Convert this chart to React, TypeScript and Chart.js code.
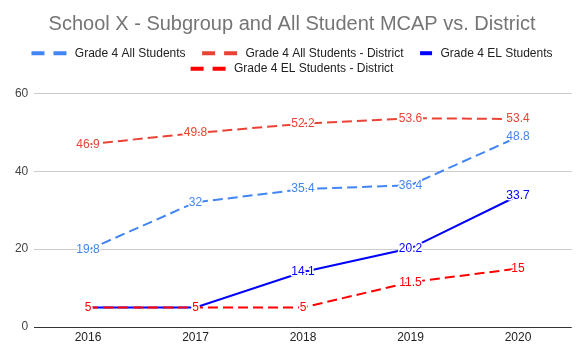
import React, { useEffect, useRef } from 'react';
import { Chart, registerables } from 'chart.js';

Chart.register(...registerables);

const FONT = "'Liberation Sans', Arial, Helvetica, sans-serif";
const TITLE = 'School X - Subgroup and All Student MCAP vs. District';

const YEARS = ['2016', '2017', '2018', '2019', '2020'];
const ALL_STUDENTS = [19.8, 32, 35.4, 36.4, 48.8];
const ALL_STUDENTS_DISTRICT = [46.9, 49.8, 52.2, 53.6, 53.4];
const EL_STUDENTS = [5, 5, 14.1, 20.2, 33.7];
const EL_STUDENTS_DISTRICT = [5, 5, 5, 11.5, 15];
const Y_TICKS = [0, 20, 40, 60];

const SERIES_LABELS = [
  'Grade 4 All Students',
  'Grade 4 All Students - District',
  'Grade 4 EL Students',
  'Grade 4 EL Students - District',
];
const SERIES_COLORS = ['#4285F4', '#EA4335', '#0000FF', '#FF0000'];

const dataLabelPlugin = {
  id: 'dataLabels',
  afterDatasetsDraw(chart: any) {
    const ctx = chart.ctx;
    ctx.save();
    ctx.font = `12px ${FONT}`;
    ctx.textAlign = 'center';
    ctx.textBaseline = 'middle';
    ctx.lineJoin = 'round';
    chart.data.datasets.forEach((ds: any, di: number) => {
      const meta = chart.getDatasetMeta(di);
      meta.data.forEach((pt: any, i: number) => {
        const v = ds.data[i];
        const txt = String(v);
        ctx.lineWidth = 3;
        ctx.strokeStyle = '#ffffff';
        ctx.strokeText(txt, pt.x, pt.y);
        ctx.fillStyle = ds.borderColor;
        ctx.fillText(txt, pt.x, pt.y);
      });
    });
    ctx.restore();
  },
};

const titleLegendPlugin = {
  id: 'titleLegend',
  afterDraw(chart: any) {
    const ctx = chart.ctx;
    const W = chart.width;
    ctx.save();
    // Title
    ctx.font = `20px ${FONT}`;
    ctx.fillStyle = '#757575';
    ctx.textAlign = 'center';
    ctx.textBaseline = 'alphabetic';
    ctx.fillText(TITLE, W / 2, 29.5);

    // Legend
    ctx.font = `12px ${FONT}`;
    const TEXT_GAP = 8.4;
    const ITEM_GAP = 16.5;
    const items = chart.data.datasets.map((ds: any) => {
      const dashed = (ds.borderDash || []).length > 0;
      const sw = dashed ? 35 : 12;
      return {
        text: ds.label,
        color: ds.borderColor,
        dashed,
        sw,
        w: sw + TEXT_GAP + ctx.measureText(ds.label).width,
      };
    });
    const maxW = W - 40;
    const rows: any[][] = [];
    let cur: any[] = [];
    let curW = 0;
    items.forEach((it: any) => {
      if (cur.length === 0) {
        cur.push(it);
        curW = it.w;
      } else if (curW + ITEM_GAP + it.w <= maxW) {
        cur.push(it);
        curW += ITEM_GAP + it.w;
      } else {
        rows.push(cur);
        cur = [it];
        curW = it.w;
      }
    });
    if (cur.length) rows.push(cur);

    rows.forEach((row, r) => {
      const total = row.reduce((s, it) => s + it.w, 0) + ITEM_GAP * (row.length - 1);
      let x = (W - total) / 2;
      const base = 56.7 + r * 15.6;
      row.forEach((it: any) => {
        ctx.beginPath();
        ctx.lineWidth = 4;
        ctx.lineCap = 'butt';
        ctx.strokeStyle = it.color;
        ctx.setLineDash(it.dashed ? [13, 9] : []);
        ctx.moveTo(x, base - 3.5);
        ctx.lineTo(x + it.sw, base - 3.5);
        ctx.stroke();
        ctx.setLineDash([]);
        ctx.fillStyle = '#222222';
        ctx.textAlign = 'left';
        ctx.textBaseline = 'alphabetic';
        ctx.fillText(it.text, x + it.sw + TEXT_GAP, base);
        x += it.w + ITEM_GAP;
      });
    });
    ctx.restore();
  },
};

export default function App() {
  const canvasRef = useRef<HTMLCanvasElement | null>(null);

  useEffect(() => {
    if (!canvasRef.current) return;
    const series = [ALL_STUDENTS, ALL_STUDENTS_DISTRICT, EL_STUDENTS, EL_STUDENTS_DISTRICT];
    const dashes = [[10, 5], [10, 5], [], [10, 5]];
    const orders = [3, 2, 1, 0];
    const chart = new Chart(canvasRef.current, {
      type: 'line',
      data: {
        labels: YEARS,
        datasets: series.map((d, i) => ({
          label: SERIES_LABELS[i],
          data: d,
          borderColor: SERIES_COLORS[i],
          backgroundColor: SERIES_COLORS[i],
          borderWidth: 2,
          borderDash: dashes[i],
          pointRadius: 0,
          pointHoverRadius: 0,
          tension: 0,
          fill: false,
          order: orders[i],
        })),
      },
      options: {
        animation: false,
        responsive: true,
        maintainAspectRatio: false,
        events: [],
        layout: { padding: { top: 93.3, left: 0, right: 12.25, bottom: 11.6 } },
        plugins: {
          legend: { display: false },
          title: { display: false },
          tooltip: { enabled: false },
        },
        scales: {
          x: {
            offset: true,
            grid: { display: false, drawTicks: false },
            border: { display: false },
            ticks: { color: '#222222', font: { family: FONT, size: 12 }, padding: 3, maxRotation: 0 },
          },
          y: {
            min: 0,
            max: 60,
            afterBuildTicks: (s: any) => {
              s.ticks = Y_TICKS.map((v) => ({ value: v }));
            },
            afterFit: (s: any) => {
              s.width = 34.25;
            },
            grid: {
              drawTicks: false,
              color: (c: any) => (c.tick && c.tick.value === 0 ? '#333333' : '#cccccc'),
              lineWidth: 1,
            },
            border: { display: false },
            ticks: { color: '#444444', font: { family: FONT, size: 12 }, padding: 6 },
          },
        },
      },
      plugins: [dataLabelPlugin, titleLegendPlugin],
    } as any);
    return () => chart.destroy();
  }, []);

  return (
    <div style={{ position: 'absolute', left: 0, top: 0, width: 584, height: 359, background: '#ffffff' }}>
      <canvas ref={canvasRef} />
    </div>
  );
}
